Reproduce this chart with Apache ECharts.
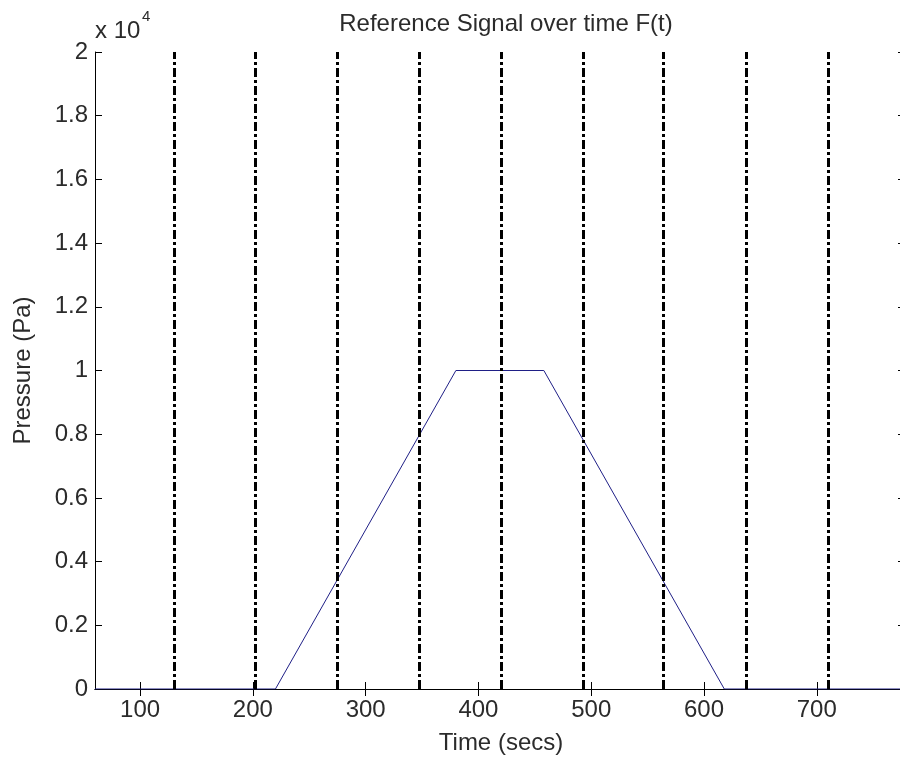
<!DOCTYPE html>
<html>
<head>
<meta charset="utf-8">
<script src="https://cdn.jsdelivr.net/npm/echarts@6/dist/echarts.min.js"></script>
<style>
  html, body { margin: 0; padding: 0; background: #fff; overflow: hidden; }
  #chart { width: 930px; height: 760px; }
</style>
</head>
<body>
<div id="chart"></div>
<script>
// Reference pressure profile F(t): trapezoid ramp up, hold, ramp down
const timeSecs = [60, 220, 380, 458, 618, 780];
const pressurePa = [0, 0, 10000, 10000, 0, 0];

// Sampling instants marked with dash-dot vertical lines
const markerTimes = [130, 202.5, 275, 347.5, 420, 492.5, 564, 637.5, 710];

// Axis ticks
const xTicks = [100, 200, 300, 400, 500, 600, 700];
const yTickLabels = ['0', '0.2', '0.4', '0.6', '0.8', '1', '1.2', '1.4', '1.6', '1.8', '2'];

const FONT = '"Liberation Sans", Arial, sans-serif';
const FS = 24;
const TEXT = '#2b2b2b';

const chart = echarts.init(document.getElementById('chart'), null, { renderer: 'canvas' });

// the axes box runs a little past the right edge of the visible page
const GRID = { left: 95, top: 52, width: 812, height: 640 };

const tickStyle = { show: true, inside: true, length: 7, lineStyle: { color: '#000', width: 1 } };
const lineStyleAxis = { show: true, lineStyle: { color: '#000', width: 1 } };

chart.setOption({
  animation: false,
  backgroundColor: '#fff',
  title: {
    text: 'Reference Signal over time F(t)',
    left: 501, top: 7, textAlign: 'center',
    textStyle: { fontFamily: FONT, fontSize: FS, fontWeight: 'normal', color: TEXT }
  },
  graphic: [
    { type: 'text', left: 95, top: 19,
      style: { text: 'x 10', font: FS + 'px ' + FONT, fill: TEXT } },
    { type: 'text', left: 142, top: 9,
      style: { text: '4', font: '15px ' + FONT, fill: TEXT } }
  ],
  grid: GRID,
  xAxis: [
    {
      type: 'value', min: 60, max: 780,
      axisLine: lineStyleAxis,
      axisTick: Object.assign({}, tickStyle, { customValues: xTicks }),
      splitLine: { show: false },
      axisLabel: {
        fontFamily: FONT, fontSize: FS, color: TEXT, margin: 9,
        customValues: xTicks
      },
      name: 'Time (secs)', nameLocation: 'middle', nameGap: 42,
      nameTextStyle: { fontFamily: FONT, fontSize: FS, color: TEXT }
    },
    {
      type: 'value', min: 60, max: 780, position: 'top',
      axisLine: lineStyleAxis,
      axisTick: Object.assign({}, tickStyle, { customValues: xTicks }),
      axisLabel: { show: false, customValues: xTicks },
      splitLine: { show: false }
    }
  ],
  yAxis: [
    {
      type: 'value', min: 0, max: 20000, interval: 2000,
      axisLine: lineStyleAxis,
      axisTick: tickStyle,
      splitLine: { show: false },
      axisLabel: {
        fontFamily: FONT, fontSize: FS, color: TEXT, margin: 7,
        formatter: (v) => yTickLabels[Math.round(v / 2000)]
      },
      name: 'Pressure (Pa)', nameLocation: 'middle', nameGap: 60, nameRotate: 90,
      nameTextStyle: { fontFamily: FONT, fontSize: FS, color: TEXT }
    },
    {
      type: 'value', min: 0, max: 20000, interval: 2000, position: 'right',
      axisLine: lineStyleAxis,
      axisTick: Object.assign({}, tickStyle, { length: 9 }),
      axisLabel: { show: false },
      splitLine: { show: false }
    }
  ],
  series: [
    {
      type: 'line',
      data: timeSecs.map((t, i) => [t, pressurePa[i]]),
      showSymbol: false,
      lineStyle: { color: '#1f1f86', width: 1 },
      z: 3
    },
    {
      type: 'line',
      data: [],
      z: 4,
      markLine: {
        silent: true,
        symbol: ['none', 'none'],
        label: { show: false },
        lineStyle: { color: '#000', width: 3, type: [9, 3, 3, 3] },
        data: markerTimes.map((t) => ({ xAxis: t }))
      }
    }
  ]
});
</script>
</body>
</html>
